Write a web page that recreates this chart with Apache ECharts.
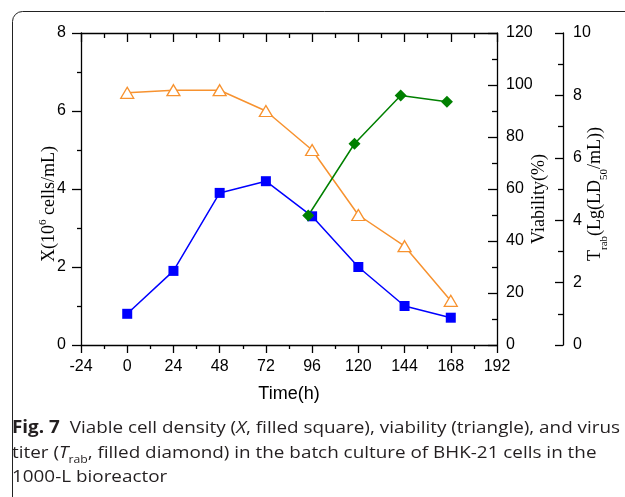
<!DOCTYPE html>
<html>
<head>
<meta charset="utf-8">
<style>
  html, body { margin: 0; padding: 0; background: #fff; }
  #chart { width: 625px; height: 497px; }
</style>
<script src="https://cdn.jsdelivr.net/npm/echarts@6/dist/echarts.min.js"></script>
</head>
<body>
<div id="chart"></div>
<script>
// Batch culture time course (hours)
const timeX = [0, 24, 48, 72, 96, 120, 144, 168];
// Viable cell density, 10^6 cells/mL
const cellDensity = [0.8, 1.9, 3.9, 4.2, 3.3, 2.0, 1.0, 0.7];
// Viability, %
const viability = [97, 98, 98, 90, 75, 50, 38, 17];
// Virus titer, Lg(LD50/mL), sampled after infection
const timeT = [94, 118, 142, 166];
const titer = [4.15, 6.45, 8.0, 7.8];

// Axis ranges and tick steps
const timeTicks = { min: -24, max: 192, step: 24 };
const xTicks = { min: 0, max: 8, step: 2 };
const viabTicks = { min: 0, max: 120, step: 20 };
const titerTicks = { min: 0, max: 10, step: 2 };

const pair = (xs, ys) => xs.map((x, i) => [x, ys[i]]);

const sans = "'Liberation Sans', Arial, sans-serif";
const serif = "'Liberation Serif', 'Times New Roman', serif";
const captionFont = "'Open Sans'";
const capSize = 17;
const capStretch = 1.11;

const tickFont = { fontFamily: sans, fontSize: 16, color: '#000' };
const axisLine = { show: true, onZero: false, lineStyle: { color: '#000', width: 1.3 } };
const tickLine = { color: '#000', width: 1.3 };

const chart = echarts.init(document.getElementById('chart'), null, { renderer: 'canvas' });

chart.setOption({
  animation: false,
  backgroundColor: '#fff',
  grid: { left: 81, top: 33, right: 128, bottom: 152, containLabel: false },
  xAxis: [
    {
      type: 'value', position: 'bottom',
      min: timeTicks.min, max: timeTicks.max, interval: timeTicks.step,
      axisLine: axisLine,
      axisTick: { show: true, inside: false, length: 8, lineStyle: tickLine },
      minorTick: { show: true, splitNumber: 2, length: 4, lineStyle: tickLine },
      axisLabel: Object.assign({ margin: 14 }, tickFont),
      splitLine: { show: false }
    },
    {
      type: 'value', position: 'top',
      min: timeTicks.min, max: timeTicks.max, interval: timeTicks.step,
      axisLine: axisLine,
      axisTick: { show: true, inside: true, length: 9, lineStyle: tickLine },
      minorTick: { show: true, splitNumber: 2, length: 5, lineStyle: tickLine },
      axisLabel: { show: false },
      splitLine: { show: false }
    }
  ],
  yAxis: [
    {
      type: 'value', position: 'left',
      min: xTicks.min, max: xTicks.max, interval: xTicks.step,
      axisLine: axisLine,
      axisTick: { show: true, inside: false, length: 9, lineStyle: tickLine },
      minorTick: { show: true, splitNumber: 2, length: 4, lineStyle: tickLine },
      axisLabel: Object.assign({ margin: 15 }, tickFont),
      splitLine: { show: false }
    },
    {
      type: 'value', position: 'right', offset: 0,
      min: viabTicks.min, max: viabTicks.max, interval: viabTicks.step,
      axisLine: axisLine,
      axisTick: { show: true, inside: true, length: 9, lineStyle: tickLine },
      minorTick: { show: true, splitNumber: 2, length: 5, lineStyle: tickLine },
      axisLabel: Object.assign({ margin: 9 }, tickFont),
      splitLine: { show: false }
    },
    {
      type: 'value', position: 'right', offset: 66,
      min: titerTicks.min, max: titerTicks.max, interval: titerTicks.step,
      axisLine: axisLine,
      axisTick: { show: true, inside: true, length: 8, lineStyle: tickLine },
      minorTick: { show: true, splitNumber: 2, length: 5, lineStyle: tickLine },
      axisLabel: Object.assign({ margin: 10 }, tickFont),
      splitLine: { show: false }
    }
  ],
  series: [
    {
      name: 'X', type: 'line', xAxisIndex: 0, yAxisIndex: 0,
      data: pair(timeX, cellDensity),
      symbol: 'rect', symbolSize: 10,
      lineStyle: { color: '#0000FF', width: 1.5 },
      itemStyle: { color: '#0000FF' }
    },
    {
      name: 'Viability', type: 'line', xAxisIndex: 0, yAxisIndex: 1,
      data: pair(timeX, viability),
      symbol: 'triangle', symbolSize: [13, 11],
      showAllSymbol: true,
      lineStyle: { color: '#F7922F', width: 1.5 },
      itemStyle: { color: '#fff', borderColor: '#F7922F', borderWidth: 1.3 }
    },
    {
      name: 'Trab', type: 'line', xAxisIndex: 0, yAxisIndex: 2,
      data: pair(timeT, titer),
      symbol: 'diamond', symbolSize: 12,
      lineStyle: { color: '#008000', width: 1.5 },
      itemStyle: { color: '#008000' }
    }
  ],
  graphic: [
    // panel frame (top and left edges visible)
    {
      type: 'rect', silent: true,
      shape: { x: 12.5, y: 11.5, width: 800, height: 700, r: 10 },
      style: { fill: 'none', stroke: '#222', lineWidth: 1 }
    },
    // left axis title
    {
      type: 'text', x: 48, y: 204, rotation: Math.PI / 2,
      style: {
        text: '{n|X(10}{sup|6}{n| cells/mL)}',
        align: 'center', verticalAlign: 'middle',
        rich: {
          n: { fontFamily: serif, fontSize: 18, fill: '#000', lineHeight: 20, verticalAlign: 'bottom' },
          sup: { fontFamily: serif, fontSize: 11, fill: '#000', lineHeight: 20, verticalAlign: 'top' }
        }
      }
    },
    // viability axis title
    {
      type: 'text', x: 539, y: 199, rotation: Math.PI / 2,
      style: {
        text: 'Viability(%)', align: 'center', verticalAlign: 'middle',
        fontFamily: serif, fontSize: 18, fill: '#000'
      }
    },
    // titer axis title
    {
      type: 'text', x: 598, y: 194, rotation: Math.PI / 2,
      style: {
        text: '{n|T}{sub|rab}{n|(Lg(LD}{sub|50}{n|/mL))}',
        align: 'center', verticalAlign: 'middle',
        rich: {
          n: { fontFamily: serif, fontSize: 18, fill: '#000', lineHeight: 24, verticalAlign: 'top' },
          sub: { fontFamily: serif, fontSize: 11, fill: '#000', lineHeight: 24, verticalAlign: 'bottom' }
        }
      }
    },
    // bottom axis title
    {
      type: 'text', x: 289, y: 394,
      style: {
        text: 'Time(h)', align: 'center', verticalAlign: 'middle',
        fontFamily: sans, fontSize: 18, fill: '#000'
      }
    },
    // caption
    {
      type: 'text', x: 12, y: 428, scaleX: capStretch,
      style: {
        text: '{b|Fig. 7}{r|  Viable cell density (}{i|X}{r|, filled square), viability (triangle), and virus}',
        verticalAlign: 'middle',
        rich: {
          b: { fontFamily: captionFont, fontWeight: 'bold', fontSize: capSize, fill: '#231F20' },
          r: { fontFamily: captionFont, fontSize: capSize, fill: '#231F20' },
          i: { fontFamily: captionFont, fontStyle: 'italic', fontSize: capSize, fill: '#231F20' }
        }
      }
    },
    {
      type: 'text', x: 12, y: 453, scaleX: capStretch,
      style: {
        text: '{r|titer (}{i|T}{s|rab}{r|, filled diamond) in the batch culture of BHK-21 cells in the}',
        verticalAlign: 'middle',
        rich: {
          r: { fontFamily: captionFont, fontSize: capSize, fill: '#231F20', lineHeight: 24, verticalAlign: 'middle' },
          i: { fontFamily: captionFont, fontStyle: 'italic', fontSize: capSize, fill: '#231F20', lineHeight: 24, verticalAlign: 'middle' },
          s: { fontFamily: captionFont, fontSize: 11, fill: '#231F20', lineHeight: 24, verticalAlign: 'bottom' }
        }
      }
    },
    {
      type: 'text', x: 12, y: 477, scaleX: capStretch,
      style: {
        text: '1000-L bioreactor', verticalAlign: 'middle',
        fontFamily: captionFont, fontSize: capSize, fill: '#231F20'
      }
    }
  ]
});
</script>
</body>
</html>
